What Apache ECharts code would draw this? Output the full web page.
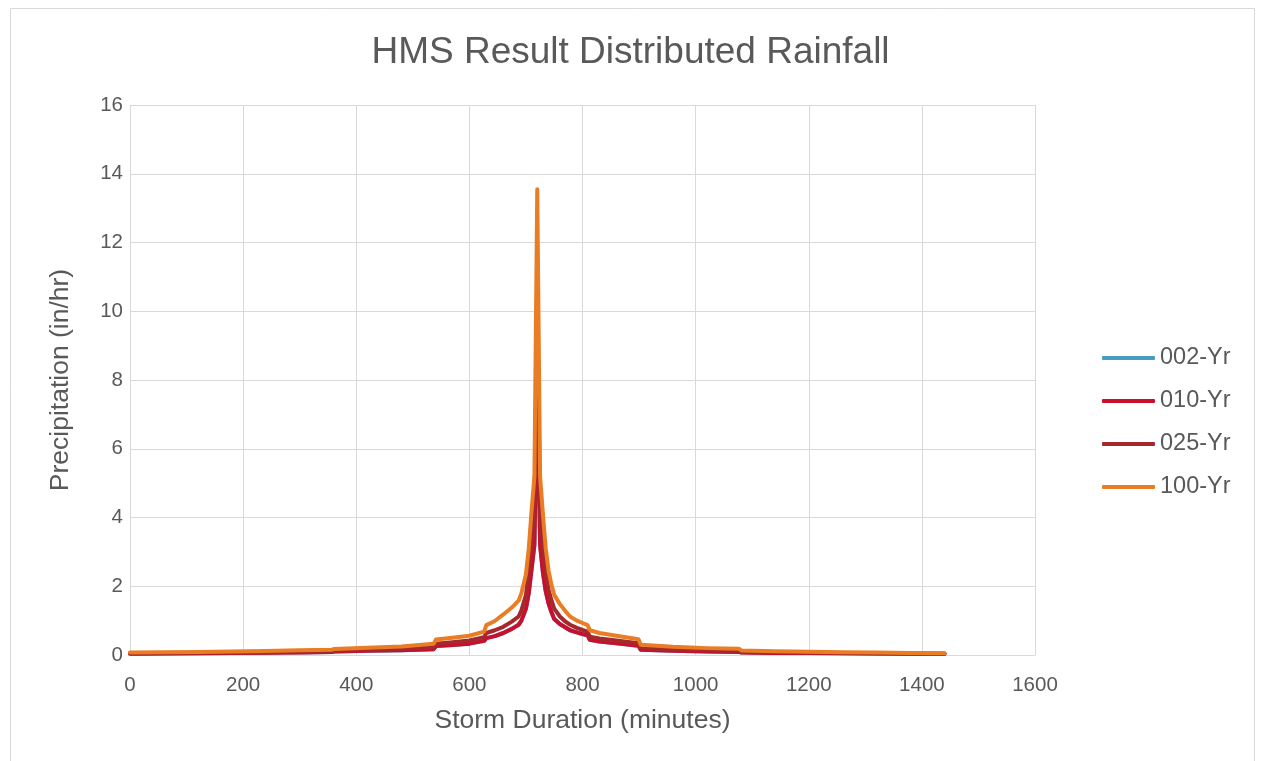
<!DOCTYPE html>
<html>
<head>
<meta charset="utf-8">
<title>HMS Result Distributed Rainfall</title>
<script src="https://cdn.jsdelivr.net/npm/echarts@6/dist/echarts.min.js"></script>
<style>
  html, body { margin: 0; padding: 0; background: #ffffff; }
  #chart { width: 1261px; height: 761px; }
</style>
</head>
<body>
<div id="chart"></div>
<script>
// Storm time (minutes) shared by every frequency storm
const minutes = [0, 60, 120, 180, 240, 300, 357, 361, 420, 480, 537, 541, 570, 600, 626, 630, 645, 660, 675, 687, 692,
  700, 705, 710, 715, 720, 725, 730, 735, 740, 745, 750, 760, 770, 778, 790, 800, 809, 813, 830, 860, 899, 903,
  960, 1020, 1077, 1081, 1140, 1200, 1260, 1320, 1380, 1440];

// Precipitation intensity (in/hr) for each return period
const rain010 = [0.04, 0.045, 0.05, 0.055, 0.065, 0.075, 0.085, 0.1, 0.12, 0.14, 0.17, 0.26, 0.29, 0.33, 0.41, 0.49,
  0.55, 0.64, 0.76, 0.88, 1.0, 1.35, 1.8, 2.5, 3.2, 8.0, 3.2, 2.4, 1.85, 1.5, 1.25, 1.05, 0.9, 0.8, 0.72, 0.66,
  0.61, 0.57, 0.44, 0.39, 0.34, 0.27, 0.15, 0.12, 0.1, 0.09, 0.07, 0.06, 0.055, 0.05, 0.045, 0.04, 0.035];
const rain025 = [0.05, 0.055, 0.06, 0.07, 0.08, 0.095, 0.11, 0.125, 0.15, 0.18, 0.23, 0.33, 0.37, 0.42, 0.52, 0.64,
  0.72, 0.82, 0.97, 1.12, 1.3, 1.75, 2.5, 3.2, 4.0, 10.4, 4.0, 3.1, 2.4, 1.9, 1.6, 1.35, 1.12, 0.97, 0.88, 0.79,
  0.73, 0.68, 0.53, 0.48, 0.42, 0.34, 0.2, 0.16, 0.13, 0.12, 0.09, 0.08, 0.07, 0.06, 0.05, 0.045, 0.04];
const rain100 = [0.07, 0.08, 0.09, 0.1, 0.115, 0.135, 0.155, 0.175, 0.21, 0.25, 0.33, 0.45, 0.5, 0.56, 0.68, 0.87,
  0.99, 1.18, 1.38, 1.58, 1.8, 2.35, 3.1, 4.2, 5.2, 13.55, 5.2, 4.1, 3.1, 2.45, 2.05, 1.75, 1.48, 1.27, 1.12, 1.0,
  0.93, 0.87, 0.72, 0.64, 0.56, 0.46, 0.3, 0.24, 0.2, 0.18, 0.13, 0.11, 0.095, 0.08, 0.07, 0.06, 0.05];
// The 002-Yr trace coincides with the 010-Yr trace and sits beneath it
const rain002 = rain010;

const seriesNames = ['002-Yr', '010-Yr', '025-Yr', '100-Yr'];
const seriesValues = [rain002, rain010, rain025, rain100];
const seriesColors = ['#4A9BC1', '#C8102E', '#A6282C', '#EA7C24'];

const yTicks = [0, 2, 4, 6, 8, 10, 12, 14, 16];
const xTicks = [0, 200, 400, 600, 800, 1000, 1200, 1400, 1600];

const FONT = '"Liberation Sans", Arial, sans-serif';
const TEXT = '#595959';
const GRID = '#D9D9D9';

const chart = echarts.init(document.getElementById('chart'), null, { renderer: 'canvas' });

chart.setOption({
  backgroundColor: '#ffffff',
  animation: false,
  textStyle: { fontFamily: FONT },
  graphic: [{
    type: 'rect',
    shape: { x: 10.5, y: 8.5, width: 1244, height: 760 },
    style: { fill: 'none', stroke: GRID, lineWidth: 1 },
    silent: true
  }],
  title: {
    text: 'HMS Result Distributed Rainfall',
    left: 'center',
    top: 29,
    textStyle: { fontFamily: FONT, fontSize: 37, fontWeight: 'normal', color: TEXT }
  },
  legend: {
    orient: 'vertical',
    left: 1097,
    top: 341,
    itemWidth: 53,
    itemHeight: 4,
    itemGap: 19,
    icon: 'roundRect',
    data: seriesNames,
    textStyle: { fontFamily: FONT, fontSize: 23.5, color: TEXT, lineHeight: 24, padding: [0, 0, 0, 0] }
  },
  grid: { left: 130, right: 226, top: 105, bottom: 106, containLabel: false },
  xAxis: {
    type: 'value',
    min: xTicks[0],
    max: xTicks[xTicks.length - 1],
    interval: xTicks[1] - xTicks[0],
    name: 'Storm Duration (minutes)',
    nameLocation: 'middle',
    nameGap: 52,
    nameTextStyle: { fontFamily: FONT, fontSize: 26.5, color: TEXT },
    axisLine: { show: true, lineStyle: { color: GRID, width: 1 } },
    axisTick: { show: false },
    axisLabel: { fontFamily: FONT, fontSize: 20.5, color: TEXT, margin: 20, formatter: v => String(v) },
    splitLine: { show: true, lineStyle: { color: GRID, width: 1 } }
  },
  yAxis: {
    type: 'value',
    min: yTicks[0],
    max: yTicks[yTicks.length - 1],
    interval: yTicks[1] - yTicks[0],
    name: 'Precipitation (in/hr)',
    nameLocation: 'middle',
    nameGap: 56,
    nameTextStyle: { fontFamily: FONT, fontSize: 26.5, color: TEXT },
    axisLine: { show: false },
    axisTick: { show: false },
    axisLabel: { fontFamily: FONT, fontSize: 20.5, color: TEXT, margin: 7, formatter: v => String(v) },
    splitLine: { show: true, lineStyle: { color: GRID, width: 1 } }
  },
  series: seriesNames.map((name, i) => ({
    name: name,
    type: 'line',
    data: minutes.map((t, k) => [t, seriesValues[i][k]]),
    showSymbol: false,
    symbol: 'none',
    smooth: false,
    color: seriesColors[i],
    lineStyle: { width: 4, color: seriesColors[i], cap: 'round', join: 'round' },
    emphasis: { disabled: true },
    z: 2 + i
  }))
});
</script>
</body>
</html>
